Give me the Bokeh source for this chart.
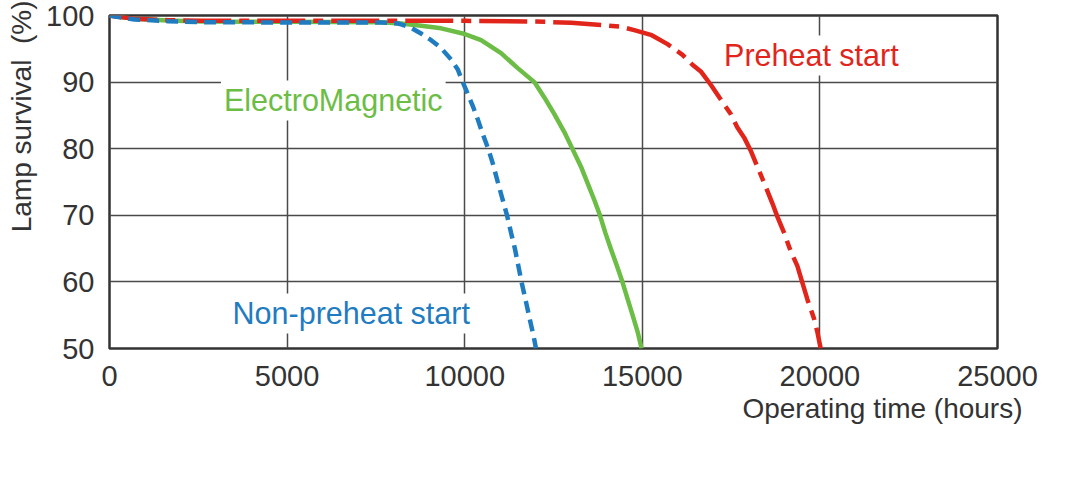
from bokeh.plotting import figure
from bokeh.models import Range1d, FixedTicker, Label, Title
from bokeh.embed import file_html
from bokeh.resources import INLINE

# ---- data ----
x_ticks = [0, 5000, 10000, 15000, 20000, 25000]
y_ticks = [50, 60, 70, 80, 90, 100]

hours_nonpreheat = [0, 700, 1650, 2600, 5000, 7650, 8120, 8210, 8490, 8770, 9055, 9336,
                    9617, 9805, 9946, 10087, 10228, 10368, 10509, 10668, 10790, 10931,
                    11071, 11192, 11304, 11417, 11510, 11604, 11726, 11848, 11942, 12007]
surv_nonpreheat = [100, 99.4, 99.15, 99.0, 98.95, 98.95, 98.8, 98.66, 98.16, 97.3, 96.3, 95.1,
                   93.4, 91.9, 90.0, 88.2, 86.4, 84.4, 82.2, 79.9, 77.8, 75.0,
                   72.3, 70.0, 67.4, 64.9, 62.4, 59.9, 57.0, 54.0, 51.8, 50.0]

hours_em = [0, 700, 1650, 2600, 5000, 7650, 8211, 8773, 9336, 9946, 10462, 11024, 11493,
            11961, 12242, 12524, 12805, 13040, 13274, 13462, 13649, 13808, 13958, 14118,
            14287, 14446, 14587, 14727, 14868, 14980]
surv_em = [100, 99.5, 99.25, 99.1, 99.05, 99.0, 98.8, 98.46, 98.07, 97.3, 96.3, 94.35, 92.1,
           90.0, 87.7, 85.2, 82.5, 79.9, 77.3, 74.8, 72.3, 70.0, 67.4, 64.9,
           62.4, 59.9, 57.4, 55.0, 52.5, 50.0]

hours_preheat = [0, 700, 1650, 2600, 5000, 8000, 10000, 12000, 13000, 13835, 14397, 14772,
                 15241, 15710, 16132, 16413, 16647, 16928, 17209, 17490, 17677, 17865,
                 18053, 18240, 18474, 18662, 18802, 18990, 19178, 19365, 19506, 19646,
                 19834, 19928, 20022]
surv_preheat = [100, 99.5, 99.3, 99.2, 99.2, 99.2, 99.2, 99.1, 98.9, 98.56, 98.31, 97.8,
                97.1, 95.7, 94.1, 92.6, 91.6, 89.6, 87.4, 85.2, 83.2, 81.7,
                79.7, 77.3, 74.3, 71.8, 69.8, 67.4, 64.6, 62.4, 59.9, 57.4,
                54.5, 52.5, 50.0]

BLUE = "#1f7cc1"
GREEN = "#6cbd45"
RED = "#e1251b"
DARK = "#333333"
FONT = "Liberation Sans"

p = figure(width=1052, height=468, x_range=Range1d(0, 25000), y_range=Range1d(50, 100),
           output_backend="svg", toolbar_location=None,
           min_border_left=108, min_border_right=55, min_border_top=15, min_border_bottom=120)
p.background_fill_color = "white"
p.border_fill_color = "white"
p.outline_line_color = DARK
p.outline_line_width = 2.5
p.outline_line_alpha = 1

for ax in (p.xaxis, p.yaxis):
    ax.axis_line_color = None
    ax.major_tick_line_color = None
    ax.minor_tick_line_color = None
    ax.major_tick_out = 0
    ax.major_tick_in = 0
    ax.major_label_text_font = FONT
    ax.major_label_text_font_size = "29px"
    ax.major_label_text_color = DARK
p.xaxis.ticker = FixedTicker(ticks=x_ticks)
p.yaxis.ticker = FixedTicker(ticks=y_ticks)
p.xaxis.major_label_standoff = 17
p.yaxis.major_label_standoff = 15

p.xgrid.ticker = FixedTicker(ticks=x_ticks)
p.ygrid.ticker = FixedTicker(ticks=y_ticks)
for g in (p.xgrid, p.ygrid):
    g.grid_line_color = "#4a4a4a"
    g.grid_line_width = 1.5
    g.grid_line_alpha = 1

p.line(hours_em, surv_em, line_color=GREEN, line_width=4.5, line_join="round")
p.line(hours_preheat, surv_preheat, line_color=RED, line_width=4.5, line_dash="48 8 10 8")
p.line(hours_nonpreheat, surv_nonpreheat, line_color=BLUE, line_width=4.5, line_dash="12 7")

def note(x, y, text, color):
    return Label(x=x, y=y, text=text, text_color=color, text_font=FONT, text_font_size="30.5px",
                 text_align="center", text_baseline="alphabetic",
                 background_fill_color="white", background_fill_alpha=1, padding=3)

p.add_layout(note(6300, 87.24, "ElectroMagnetic", GREEN))
p.add_layout(note(6806, 55.26, "Non-preheat start", BLUE))
p.add_layout(note(19760, 94.0, "Preheat start", RED))

xtitle = Title(text="Operating time (hours)", align="right", offset=-25, standoff=4,
               text_font=FONT, text_font_size="28px", text_font_style="normal",
               text_color=DARK)
p.add_layout(xtitle, "below")
ytitle = Title(text="Lamp survival\u00a0\u00a0(%)", align="right", offset=-15, standoff=10,
               vertical_align="top",
               text_font=FONT, text_font_size="28px", text_font_style="normal",
               text_color=DARK)
p.add_layout(ytitle, "left")

open("out.html", "w").write(file_html(p, INLINE))
